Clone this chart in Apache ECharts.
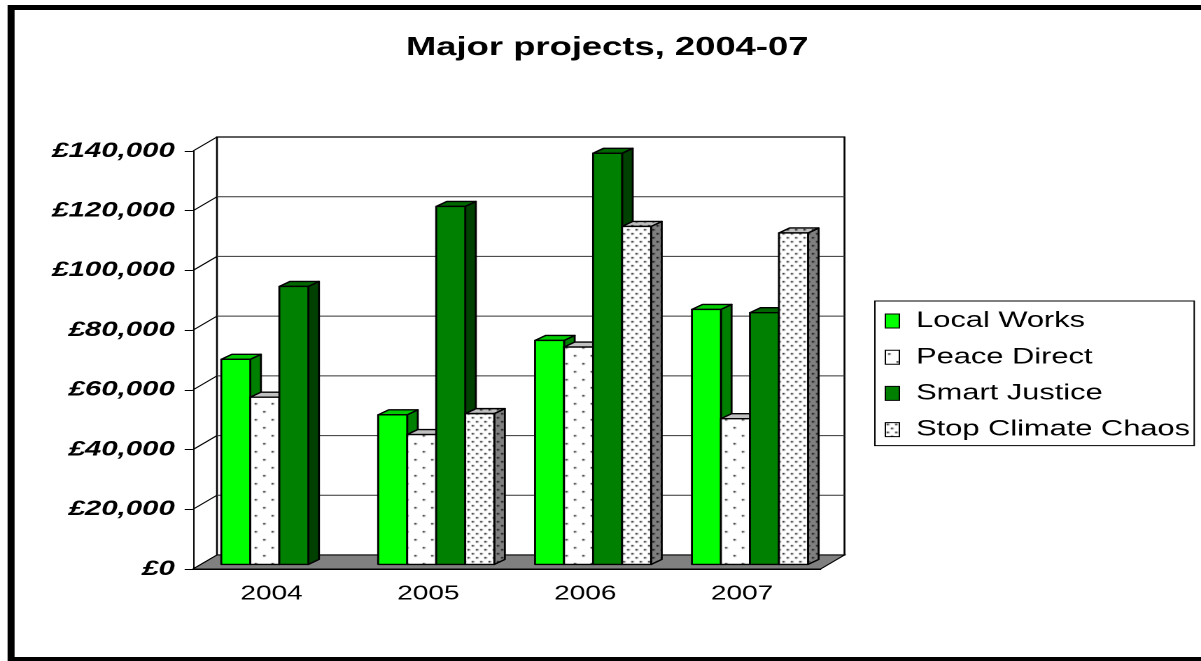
<!DOCTYPE html>
<html>
<head>
<meta charset="utf-8">
<title>Major projects, 2004-07</title>
<script src="https://cdn.jsdelivr.net/npm/echarts@6/dist/echarts.min.js"></script>
<style>
  html, body { margin: 0; padding: 0; background: #fff; overflow: hidden; }
  /* the source picture is stretched sideways, so draw narrow and stretch */
  #chart { width: 858px; height: 661px; transform: scaleX(1.39977); transform-origin: 0 0; }
</style>
</head>
<body>
<div id="chart"></div>
<script>
// data
const years = ['2004', '2005', '2006', '2007']
const seriesNames = ['Local Works', 'Peace Direct', 'Smart Justice', 'Stop Climate Chaos']
const localWorks = [68700, 50100, 75000, 85400]
const peaceDirect = [56000, 43500, 72800, 48800]
const smartJustice = [93100, 119900, 137700, 84300]
const stopClimateChaos = [null, 50500, 113200, 111000]
const yMin = 0
const yMax = 140000
const yInterval = 20000

// 3D look
const DEPTH = [17.1, -14]      // front plane -> back wall
const BAR_OFF = [5.6, -4.6]    // bar front face from front plane
const BAR_DEPTH = [7.6, -5]
const BAR_FRAC = 0.185         // bar width as part of a category

function dots(bg, w, h, pts, dotColor) {
  const c = document.createElement('canvas')
  c.width = w
  c.height = h
  const g = c.getContext('2d')
  g.fillStyle = bg
  g.fillRect(0, 0, w, h)
  g.fillStyle = dotColor
  pts.forEach(p => g.fillRect(p[0], p[1], 1.5, 1.5))
  return { image: c, repeat: 'repeat' }
}

const sparseWhite = dots('#ffffff', 12, 16, [[2, 3], [8, 11]], '#000')
const sparseGrey = dots('#c0c0c0', 12, 16, [[2, 3], [8, 11]], '#000')
const denseWhite = dots('#ffffff', 6, 8, [[1, 1], [4, 5]], '#000')
const denseLight = dots('#c0c0c0', 6, 8, [[1, 1], [4, 5]], '#000')
const denseGrey = dots('#808080', 6, 8, [[1, 1], [4, 5]], '#000')

const faces = [
  { front: '#00ff00', top: '#00cc00', side: '#008000' },
  { front: sparseWhite, top: '#c0c0c0', side: sparseGrey },
  { front: '#008000', top: '#006600', side: '#004000' },
  { front: denseWhite, top: denseLight, side: denseGrey }
]
const seriesValues = [localWorks, peaceDirect, smartJustice, stopClimateChaos]

function money(v) {
  return '£' + String(v).replace(/\B(?=(\d{3})+(?!\d))/g, ',')
}

// floor, back wall, gridlines, left wall
function renderFrame(params, api) {
  const cs = params.coordSys
  const xl = cs.x
  const xr = cs.x + cs.width
  const y0 = api.coord([0, yMin])[1]
  const yt = api.coord([0, yMax])[1]
  const dx = DEPTH[0]
  const dy = DEPTH[1]
  const children = [
    {
      type: 'rect',
      shape: { x: xl + dx, y: yt + dy, width: xr - xl, height: y0 - yt },
      style: { fill: '#fff', stroke: '#000', lineWidth: 1.3 }
    }
  ]
  for (let v = yMin; v <= yMax; v += yInterval) {
    const y = api.coord([0, v])[1]
    if (v > yMin && v < yMax) {
      children.push({
        type: 'line',
        shape: { x1: xl + dx, y1: y + dy, x2: xr + dx, y2: y + dy },
        style: { stroke: '#333', lineWidth: 1 }
      })
    }
    children.push({
      type: 'line',
      shape: { x1: xl, y1: y, x2: xl + dx, y2: y + dy },
      style: { stroke: '#000', lineWidth: 1 }
    })
  }
  children.push({
    type: 'polygon',
    shape: { points: [[xl, y0], [xr, y0], [xr + dx, y0 + dy], [xl + dx, y0 + dy]] },
    style: { fill: '#808080', stroke: '#000', lineWidth: 1 }
  })
  return { type: 'group', children }
}

function makeBarRender(idx) {
  const f = faces[idx]
  return function (params, api) {
    const v = api.value(1)
    if (v == null || isNaN(v)) return
    const base = api.coord([api.value(0), 0])
    const top = api.coord([api.value(0), v])
    const bw = api.size([1, 0])[0] * BAR_FRAC
    const x0 = base[0] + BAR_OFF[0] + (idx - 2) * bw
    const x1 = x0 + bw
    const yb = base[1] + BAR_OFF[1]
    const yt = top[1] + BAR_OFF[1]
    const dx = BAR_DEPTH[0]
    const dy = BAR_DEPTH[1]
    const edge = { stroke: '#000', lineWidth: 1.4, lineJoin: 'round' }
    return {
      type: 'group',
      children: [
        {
          type: 'polygon',
          shape: { points: [[x1, yb], [x1 + dx, yb + dy], [x1 + dx, yt + dy], [x1, yt]] },
          style: Object.assign({ fill: f.side }, edge)
        },
        {
          type: 'polygon',
          shape: { points: [[x0, yt], [x0 + dx, yt + dy], [x1 + dx, yt + dy], [x1, yt]] },
          style: Object.assign({ fill: f.top }, edge)
        },
        {
          type: 'rect',
          shape: { x: x0, y: yt, width: bw, height: yb - yt },
          style: Object.assign({ fill: f.front }, edge)
        }
      ]
    }
  }
}

const chart = echarts.init(document.getElementById('chart'), null, { devicePixelRatio: 2 })

const series = [
  {
    name: 'frame',
    type: 'custom',
    silent: true,
    renderItem: renderFrame,
    data: [[0, 0]],
    encode: { x: 0, y: 1 }
  }
]
seriesNames.forEach((name, i) => {
  series.push({
    name: name,
    type: 'custom',
    renderItem: makeBarRender(i),
    itemStyle: { color: faces[i].front, borderColor: '#000', borderWidth: 1 },
    data: seriesValues[i].map((v, c) => [c, v == null ? '-' : v]),
    encode: { x: 0, y: 1 }
  })
})

chart.setOption({
  animation: false,
  backgroundColor: '#fff',
  title: {
    text: 'Major projects, 2004-07',
    left: 290,
    top: 35,
    padding: 0,
    textStyle: { fontFamily: 'Liberation Sans', fontSize: 26, fontWeight: 'bold', color: '#000' }
  },
  legend: {
    orient: 'vertical',
    left: 625,
    top: 301,
    padding: [9, 3, 5, 7],
    itemGap: 14.2,
    itemWidth: 10,
    itemHeight: 14,
    borderColor: '#000',
    borderWidth: 1,
    textStyle: { fontFamily: 'Liberation Sans', fontSize: 22, lineHeight: 22, color: '#000', padding: [0, 0, 0, 7] },
    data: seriesNames.map((n, i) => ({
      name: n,
      icon: 'rect',
      itemStyle: { color: faces[i].front, borderColor: '#000', borderWidth: 1 }
    }))
  },
  grid: {
    left: 137.9,
    right: 271.8,
    top: 151,
    bottom: 92,
    outerBoundsMode: 'none'
  },
  xAxis: {
    type: 'category',
    data: years,
    axisLine: { lineStyle: { color: '#000', width: 1 } },
    axisTick: { length: 7, lineStyle: { color: '#000' } },
    axisLabel: { margin: 15, fontFamily: 'Liberation Sans', fontSize: 20, color: '#000' },
    splitLine: { show: false }
  },
  yAxis: {
    type: 'value',
    min: yMin,
    max: yMax,
    interval: yInterval,
    axisLine: { show: true, lineStyle: { color: '#000', width: 1 } },
    axisTick: { show: true, length: 6, lineStyle: { color: '#000' } },
    axisLabel: {
      margin: 13,
      fontFamily: 'Liberation Sans',
      fontSize: 21,
      fontWeight: 'bold',
      fontStyle: 'italic',
      color: '#000',
      formatter: money
    },
    splitLine: { show: false }
  },
  graphic: [
    {
      type: 'rect',
      silent: true,
      z: 100,
      shape: { x: 7.9, y: 7.5, width: 858, height: 652 },
      style: { fill: 'none', stroke: '#000', lineWidth: 5 }
    }
  ],
  series: series
})
</script>
</body>
</html>
